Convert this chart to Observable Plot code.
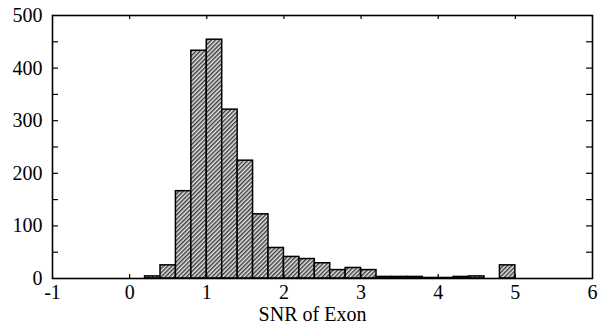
<!DOCTYPE html>
<html>
<head>
<meta charset="utf-8">
<script src="https://cdn.jsdelivr.net/npm/d3@7"></script>
<script src="https://cdn.jsdelivr.net/npm/@observablehq/plot@0.6"></script>
<style>
  html, body { margin: 0; padding: 0; background: #fff; }
</style>
</head>
<body>
<div id="chart"></div>
<script>
// Histogram bins (lower edges), bin width 0.2
const binLower = [0.2, 0.4, 0.6, 0.8, 1.0, 1.2, 1.4, 1.6, 1.8, 2.0, 2.2, 2.4, 2.6, 2.8, 3.0, 3.2, 3.4, 3.6, 3.8, 4.0, 4.2, 4.4, 4.6, 4.8];
const binUpper = [0.4, 0.6, 0.8, 1.0, 1.2, 1.4, 1.6, 1.8, 2.0, 2.2, 2.4, 2.6, 2.8, 3.0, 3.2, 3.4, 3.6, 3.8, 4.0, 4.2, 4.4, 4.6, 4.8, 5.0];
const counts   = [4, 25, 166, 433, 454, 321, 224, 122, 58, 41, 37, 29, 16, 20, 16, 3, 3, 3, 1, 1, 3, 4, 0, 25];

const xTicks = [-1, 0, 1, 2, 3, 4, 5, 6];
const yTicks = [0, 100, 200, 300, 400, 500];
const yMinorTicks = [50, 100, 150, 200, 250, 300, 350, 400, 450];
const xLabel = "SNR of Exon";

const bins = binLower.map((lo, i) => ({lo, hi: binUpper[i], n: counts[i]}));

const W = 609, H = 328;
const mT = 15, mB = 50, mL = 52, mR = 17;
const plotH = H - mT - mB, plotW = W - mL - mR;
const FONT = "Liberation Serif, DejaVu Serif, serif";

const chart = Plot.plot({
  width: W,
  height: H,
  marginTop: mT,
  marginBottom: mB,
  marginLeft: mL,
  marginRight: mR,
  style: {fontSize: "20px", fontFamily: FONT, color: "#000", background: "#fff"},
  x: {domain: [-1, 6]},
  y: {domain: [0, 500]},
  marks: [
    Plot.rectY(bins, {x1: "lo", x2: "hi", y: "n", fill: "url(#hatch)", stroke: "#000", strokeWidth: 1.5}),
    Plot.frame({stroke: "#000", strokeWidth: 1.6}),
    // inward ticks
    Plot.ruleX(xTicks.slice(1, -1), {x: d => d, insetTop: plotH - 4, stroke: "#000", strokeWidth: 1.2}),
    Plot.ruleX(xTicks.slice(1, -1), {x: d => d, insetBottom: plotH - 4, stroke: "#000", strokeWidth: 1.2}),
    Plot.ruleY(yMinorTicks, {y: d => d, insetRight: plotW - 6, stroke: "#000", strokeWidth: 1.2}),
    Plot.ruleY(yMinorTicks, {y: d => d, insetLeft: plotW - 6, stroke: "#000", strokeWidth: 1.2}),
    Plot.axisX(xTicks, {tickSize: 0, tickPadding: 6, label: null, fontSize: 20, fontFamily: FONT, tickFormat: d => String(d)}),
    Plot.axisY(yTicks, {tickSize: 0, tickPadding: 10, label: null, fontSize: 20, fontFamily: FONT, tickFormat: d => String(d)}),
    Plot.text([xLabel], {text: d => d, frameAnchor: "bottom", dx: -10, dy: 42, fontSize: 20, fontFamily: FONT, fill: "#000"})
  ]
});

// Hatch pattern definition
const ns = "http://www.w3.org/2000/svg";
const defs = document.createElementNS(ns, "defs");
const pat = document.createElementNS(ns, "pattern");
pat.setAttribute("id", "hatch");
pat.setAttribute("patternUnits", "userSpaceOnUse");
pat.setAttribute("width", "3");
pat.setAttribute("height", "3");
pat.setAttribute("patternTransform", "rotate(45)");
const bg = document.createElementNS(ns, "rect");
bg.setAttribute("width", "3"); bg.setAttribute("height", "3"); bg.setAttribute("fill", "#e8e8e8");
const ln = document.createElementNS(ns, "line");
ln.setAttribute("x1", "0.75"); ln.setAttribute("y1", "0"); ln.setAttribute("x2", "0.75"); ln.setAttribute("y2", "3");
ln.setAttribute("stroke", "#333"); ln.setAttribute("stroke-width", "1.4");
pat.appendChild(bg); pat.appendChild(ln); defs.appendChild(pat);
chart.insertBefore(defs, chart.firstChild);

// ensure serif font on all text
chart.querySelectorAll("text").forEach(t => t.setAttribute("font-family", FONT));
chart.setAttribute("font-family", FONT);

document.getElementById("chart").appendChild(chart);
</script>
</body>
</html>
